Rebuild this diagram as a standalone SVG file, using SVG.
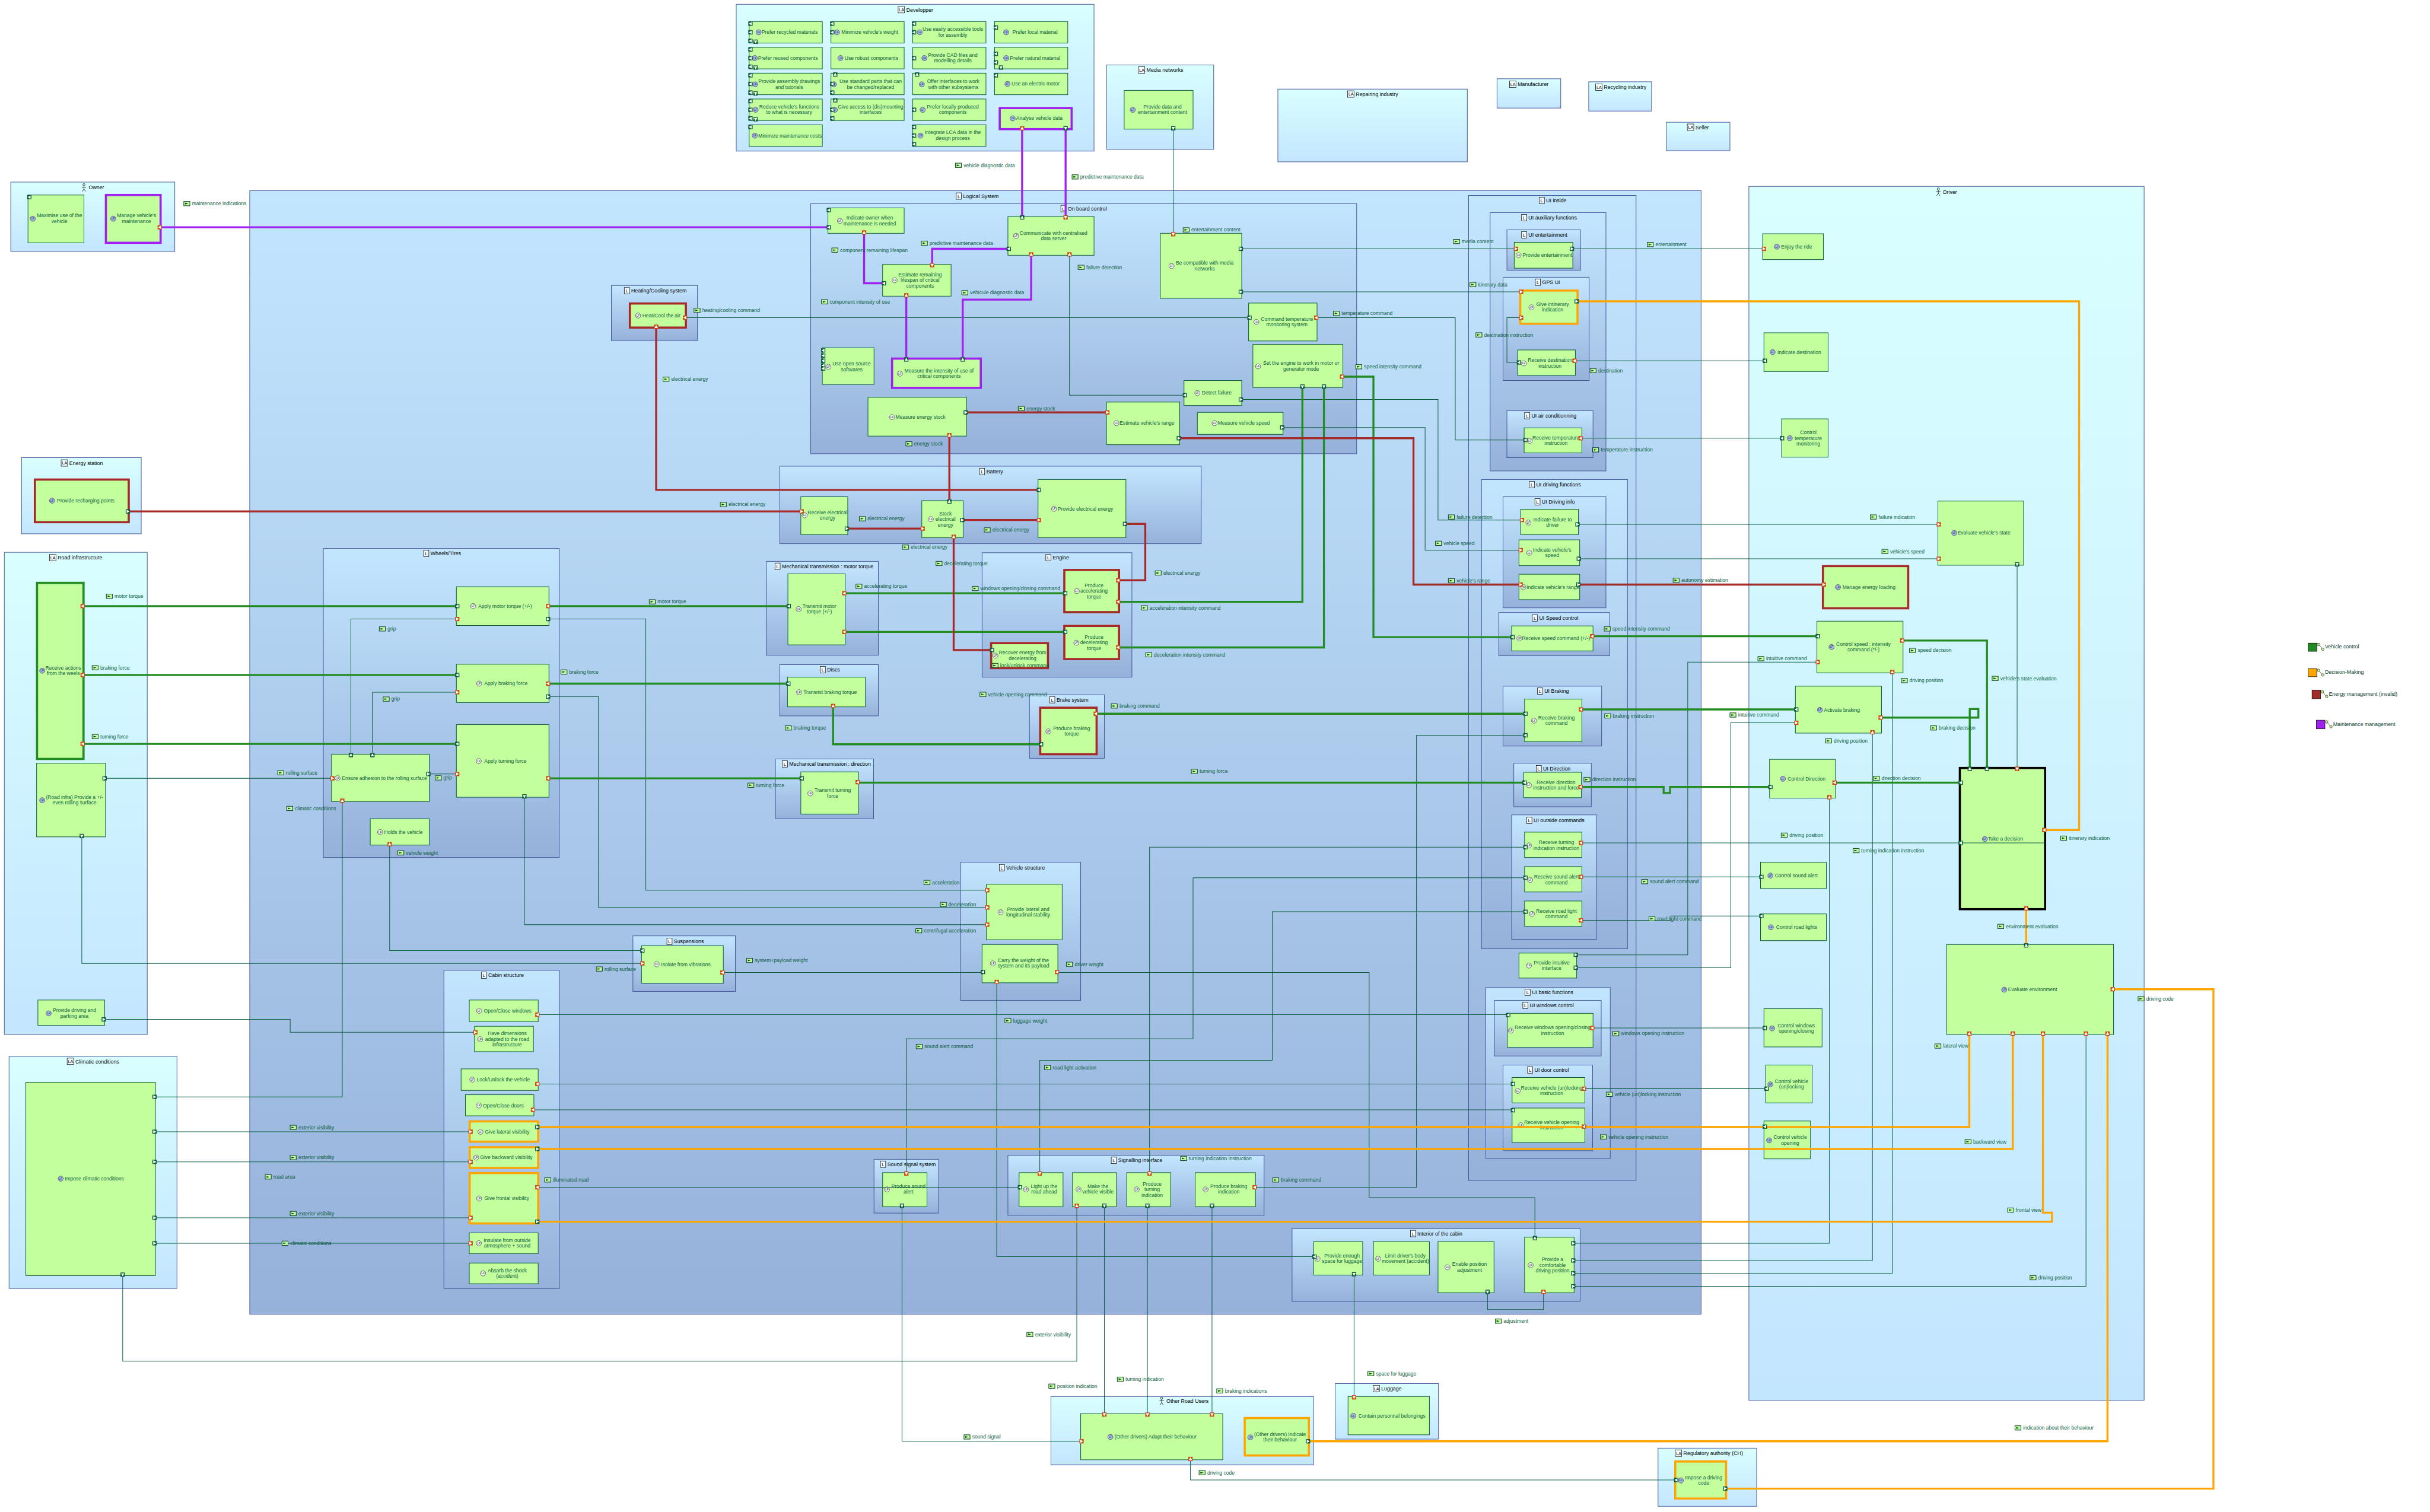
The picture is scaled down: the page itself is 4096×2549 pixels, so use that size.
<svg xmlns="http://www.w3.org/2000/svg" width="4096" height="2549" viewBox="0 0 4096 2549">
<style>
text{font-family:"Liberation Sans",Arial,sans-serif}
.c{stroke:#3f4f96;stroke-width:1.3}
.L{fill:url(#gL)}
.A{fill:url(#gA)}
.n{fill:#c4ff9e;stroke:#0b5e3e;stroke-width:1.4}
.nR{stroke:#a52a2a;stroke-width:5}
.nO{stroke:#ffa500;stroke-width:5}
.nG{stroke:#228b22;stroke-width:5}
.nP{stroke:#a020f0;stroke-width:5}
.nK{stroke:#000;stroke-width:5}
.t{font-size:11.8px;fill:#0b5e3e;text-anchor:middle}
.l{font-size:11.8px;fill:#0b5e3e}
.h{font-size:12.2px;fill:#000}
.k,.G,.O,.R,.P{fill:none}
.k{stroke:#0b5e3e;stroke-width:1.4}
.G{stroke:#228b22;stroke-width:4.6}
.O{stroke:#ffa500;stroke-width:4.6}
.R{stroke:#a52a2a;stroke-width:4.6}
.P{stroke:#a020f0;stroke-width:4.6}
.lg{font-size:12.2px;fill:#0b3e2e}
</style>
<defs>
<linearGradient id="gL" x1="0" y1="0" x2="0" y2="1"><stop offset="0" stop-color="#c3e6ff"/><stop offset="1" stop-color="#96b1da"/></linearGradient>
<linearGradient id="gA" x1="0" y1="0" x2="0" y2="1"><stop offset="0" stop-color="#d9ffff"/><stop offset="1" stop-color="#c3e6ff"/></linearGradient>
<g id="f"><circle r="6" fill="#eef4ee" stroke="#1c2a30" stroke-width=".9"/><text x="0" y="2.3" font-size="6.4" text-anchor="middle" fill="#1c2a30">LF</text></g>
<g id="fa"><circle r="6" fill="#a5b9e6" stroke="#1c2a50" stroke-width=".9"/><text x="0" y="2.3" font-size="6.4" text-anchor="middle" fill="#1c2a50">LF</text></g>
<g id="ci"><rect x="-6" y="-8" width="12" height="15" fill="#f6fbff" stroke="#000" stroke-width="1"/><text x="0" y="4" font-size="11" text-anchor="middle" fill="#000">L</text></g>
<g id="cia"><rect x="-8" y="-8" width="15" height="15" fill="#f6fbff" stroke="#000" stroke-width="1"/><text x="0" y="3.5" font-size="10" text-anchor="middle" fill="#000">LA</text></g>
<g id="act" fill="none" stroke="#000" stroke-width="1"><circle cx="0" cy="-7" r="2.6"/><path d="M0-4.4V3M-5-1H5M0 3L-4 9M0 3L4 9"/></g>
<g id="x"><rect x="0" y="-5" width="14" height="10" fill="#c4ff9e" stroke="#0b3e2e" stroke-width="1.4"/><path d="M3-2L10 0 3 2z" fill="#0b3e2e"/></g>
<g id="gr"><rect x="-5" y="-5" width="10" height="10" fill="#0a5c37"/><path d="M-3-4L4 0-3 4z" fill="#fff"/></g>
<g id="gl"><rect x="-5" y="-5" width="10" height="10" fill="#0a5c37"/><path d="M3-4L-4 0 3 4z" fill="#fff"/></g>
<g id="gu"><rect x="-5" y="-5" width="10" height="10" fill="#0a5c37"/><path d="M-4 3L0-4 4 3z" fill="#fff"/></g>
<g id="gd"><rect x="-5" y="-5" width="10" height="10" fill="#0a5c37"/><path d="M-4-3L0 4 4-3z" fill="#fff"/></g>
<g id="or"><rect x="-5" y="-5" width="10" height="10" fill="#cc4a10"/><path d="M-3-4L4 0-3 4z" fill="#fff"/></g>
<g id="ol"><rect x="-5" y="-5" width="10" height="10" fill="#cc4a10"/><path d="M3-4L-4 0 3 4z" fill="#fff"/></g>
<g id="ou"><rect x="-5" y="-5" width="10" height="10" fill="#cc4a10"/><path d="M-4 3L0-4 4 3z" fill="#fff"/></g>
<g id="od"><rect x="-5" y="-5" width="10" height="10" fill="#cc4a10"/><path d="M-4-3L0 4 4-3z" fill="#fff"/></g>
<g id="lk" fill="#c4ff9e" stroke="#222" stroke-width="1"><path d="M-3-4L6 6" fill="none"/><circle cx="-4" cy="-5" r="3"/><circle cx="6" cy="6" r="3"/></g>
</defs>
<rect width="4096" height="2549" fill="#fff"/>
<g transform="scale(.72573)">

<g id="containers">
<rect class="c A" x="1710" y="10" width="831" height="341"/>
<rect class="c A" x="2570" y="151" width="249" height="196"/>
<rect class="c A" x="2968" y="207" width="440" height="169"/>
<rect class="c A" x="3477" y="183" width="148" height="68"/>
<rect class="c A" x="3690" y="190" width="146" height="68"/>
<rect class="c A" x="3870" y="284" width="148" height="66"/>
<rect class="c A" x="25" y="423" width="381" height="161"/>
<rect class="c A" x="50" y="1063" width="278" height="177"/>
<rect class="c A" x="10" y="1283" width="332" height="1120"/>
<rect class="c A" x="21" y="2454" width="390" height="539"/>
<rect class="c A" x="4062" y="433" width="918" height="2820"/>
<rect class="c A" x="2441" y="3244" width="610" height="159"/>
<rect class="c A" x="3101" y="3214" width="240" height="129"/>
<rect class="c A" x="3851" y="3364" width="229" height="135"/>
<rect class="c L" x="580" y="443" width="3371" height="2610"/>
<rect class="c L" x="1883" y="473" width="1268" height="581"/>
<rect class="c L" x="1420" y="663" width="200" height="128"/>
<rect class="c L" x="751" y="1274" width="548" height="718"/>
<rect class="c L" x="1031" y="2254" width="268" height="739"/>
<rect class="c L" x="1811" y="1083" width="979" height="180"/>
<rect class="c L" x="1780" y="1304" width="260" height="218"/>
<rect class="c L" x="2281" y="1284" width="348" height="289"/>
<rect class="c L" x="1811" y="1544" width="229" height="119"/>
<rect class="c L" x="2391" y="1614" width="174" height="148"/>
<rect class="c L" x="1801" y="1763" width="228" height="139"/>
<rect class="c L" x="2231" y="2003" width="279" height="321"/>
<rect class="c L" x="1470" y="2174" width="238" height="129"/>
<rect class="c L" x="2030" y="2693" width="150" height="125"/>
<rect class="c L" x="2341" y="2684" width="595" height="139"/>
<rect class="c L" x="3001" y="2854" width="669" height="169"/>
<rect class="c L" x="3411" y="454" width="389" height="2288"/>
<rect class="c L" x="3461" y="494" width="269" height="600"/>
<rect class="c L" x="3500" y="534" width="171" height="94"/>
<rect class="c L" x="3491" y="644" width="200" height="240"/>
<rect class="c L" x="3500" y="954" width="200" height="109"/>
<rect class="c L" x="3441" y="1114" width="339" height="1090"/>
<rect class="c L" x="3491" y="1154" width="239" height="258"/>
<rect class="c L" x="3481" y="1423" width="258" height="100"/>
<rect class="c L" x="3491" y="1594" width="229" height="139"/>
<rect class="c L" x="3516" y="1773" width="180" height="101"/>
<rect class="c L" x="3511" y="1893" width="197" height="289"/>
<rect class="c L" x="3451" y="2294" width="289" height="397"/>
<rect class="c L" x="3471" y="2324" width="248" height="129"/>
<rect class="c L" x="3491" y="2474" width="208" height="199"/>
</g>

<g id="container-titles">
<use href="#cia" x="2094" y="23"/><text class="h" x="2105" y="27">Developper</text>
<use href="#cia" x="2652" y="163"/><text class="h" x="2663" y="167">Media networks</text>
<use href="#cia" x="3138" y="219"/><text class="h" x="3149" y="223">Repairing industry</text>
<use href="#cia" x="3514" y="196"/><text class="h" x="3525" y="200">Manufacturer</text>
<use href="#cia" x="3714" y="203"/><text class="h" x="3725" y="207">Recycling industry</text>
<use href="#cia" x="3927" y="296"/><text class="h" x="3938" y="300">Seller</text>
<use href="#ci" x="2227" y="456"/><text class="h" x="2237" y="460">Logical System</text>
<use href="#ci" x="2470" y="485"/><text class="h" x="2480" y="489">On board control</text>
<use href="#act" x="195" y="436"/><text class="h" x="206" y="440">Owner</text>
<use href="#ci" x="1456" y="676"/><text class="h" x="1466" y="680">Heating/Cooling system</text>
<use href="#cia" x="150" y="1076"/><text class="h" x="161" y="1080">Energy station</text>
<use href="#cia" x="123" y="1296"/><text class="h" x="134" y="1300">Road infrastructure</text>
<use href="#ci" x="990" y="1286"/><text class="h" x="1000" y="1290">Wheels/Tires</text>
<use href="#cia" x="164" y="2466"/><text class="h" x="175" y="2470">Climatic conditions</text>
<use href="#ci" x="1124" y="2266"/><text class="h" x="1134" y="2270">Cabin structure</text>
<use href="#ci" x="2281" y="1096"/><text class="h" x="2291" y="1100">Battery</text>
<use href="#ci" x="1806" y="1316"/><text class="h" x="1816" y="1320">Mechanical transmission : motor torque</text>
<use href="#ci" x="2435" y="1296"/><text class="h" x="2445" y="1300">Engine</text>
<use href="#ci" x="1911" y="1556"/><text class="h" x="1921" y="1560">Discs</text>
<use href="#ci" x="2444" y="1626"/><text class="h" x="2454" y="1630">Brake system</text>
<use href="#ci" x="1823" y="1775"/><text class="h" x="1833" y="1779">Mechanical transmission : direction</text>
<use href="#ci" x="2327" y="2016"/><text class="h" x="2337" y="2020">Vehicle structure</text>
<use href="#ci" x="1555" y="2187"/><text class="h" x="1565" y="2191">Suspensions</text>
<use href="#ci" x="2051" y="2705"/><text class="h" x="2061" y="2709">Sound signal system</text>
<use href="#ci" x="2587" y="2696"/><text class="h" x="2597" y="2700">Signalling interface</text>
<use href="#ci" x="3282" y="2866"/><text class="h" x="3292" y="2870">Interior of the cabin</text>
<use href="#ci" x="3581" y="466"/><text class="h" x="3591" y="470">UI inside</text>
<use href="#ci" x="3540" y="506"/><text class="h" x="3550" y="510">UI auxiliary functions</text>
<use href="#ci" x="3540" y="546"/><text class="h" x="3550" y="550">UI entertainment</text>
<use href="#ci" x="3572" y="656"/><text class="h" x="3582" y="660">GPS UI</text>
<use href="#ci" x="3547" y="966"/><text class="h" x="3557" y="970">UI air conditionning</text>
<use href="#ci" x="3558" y="1126"/><text class="h" x="3568" y="1130">UI driving functions</text>
<use href="#ci" x="3571" y="1166"/><text class="h" x="3581" y="1170">UI Driving info</text>
<use href="#ci" x="3565" y="1436"/><text class="h" x="3575" y="1440">UI Speed control</text>
<use href="#ci" x="3577" y="1606"/><text class="h" x="3587" y="1610">UI Braking</text>
<use href="#ci" x="3574" y="1786"/><text class="h" x="3584" y="1790">UI Direction</text>
<use href="#ci" x="3552" y="1906"/><text class="h" x="3562" y="1910">UI outside commands</text>
<use href="#ci" x="3548" y="2306"/><text class="h" x="3558" y="2310">UI basic functions</text>
<use href="#ci" x="3543" y="2336"/><text class="h" x="3553" y="2340">UI windows control</text>
<use href="#ci" x="3554" y="2486"/><text class="h" x="3564" y="2490">UI door control</text>
<use href="#act" x="4502" y="446"/><text class="h" x="4513" y="450">Driver</text>
<use href="#act" x="2698" y="3255"/><text class="h" x="2709" y="3259">Other Road Users</text>
<use href="#cia" x="3197" y="3226"/><text class="h" x="3208" y="3230">Luggage</text>
<use href="#cia" x="3899" y="3376"/><text class="h" x="3910" y="3380">Regulatory authority (CH)</text>
</g>

<g id="nodes">
<g id="d1"><rect class="n" x="1740" y="50" width="170" height="50"/><use href="#fa" x="1762" y="75"/><text class="t" x="1834" y="79">Prefer recycled materials</text></g>
<g id="d2"><rect class="n" x="1740" y="110" width="170" height="50"/><use href="#fa" x="1753" y="135"/><text class="t" x="1830" y="139">Prefer reused components</text></g>
<g id="d3"><rect class="n" x="1740" y="170" width="170" height="50"/><use href="#fa" x="1754" y="196"/><text class="t" x="1833" y="193"><tspan>Provide assembly drawings</tspan><tspan x="1833" dy="13">and tutorials</tspan></text></g>
<g id="d4"><rect class="n" x="1740" y="230" width="170" height="50"/><use href="#fa" x="1755" y="255"/><text class="t" x="1833" y="252"><tspan>Reduce vehicle's functions</tspan><tspan x="1833" dy="13">to what is necessary</tspan></text></g>
<g id="d5"><rect class="n" x="1740" y="290" width="170" height="50"/><use href="#fa" x="1753" y="315"/><text class="t" x="1835" y="319">Minimize maintenance costs</text></g>
<g id="d6"><rect class="n" x="1930" y="50" width="170" height="50"/><use href="#fa" x="1944" y="75"/><text class="t" x="2020" y="79">Minimize vehicle's weight</text></g>
<g id="d7"><rect class="n" x="1930" y="110" width="170" height="50"/><use href="#fa" x="1952" y="135"/><text class="t" x="2024" y="139">Use robust components</text></g>
<g id="d8"><rect class="n" x="1930" y="170" width="170" height="50"/><use href="#fa" x="1937" y="196"/><text class="t" x="2022" y="193"><tspan>Use standard parts that can</tspan><tspan x="2022" dy="13">be changed/replaced</tspan></text></g>
<g id="d9"><rect class="n" x="1930" y="230" width="170" height="50"/><use href="#fa" x="1939" y="255"/><text class="t" x="2022" y="252"><tspan>Give access to (dis)mounting</tspan><tspan x="2022" dy="13">interfaces</tspan></text></g>
<g id="d10"><rect class="n" x="2120" y="50" width="170" height="50"/><use href="#fa" x="2136" y="75"/><text class="t" x="2213" y="72"><tspan>Use easily accessible tools</tspan><tspan x="2213" dy="13">for assembly</tspan></text></g>
<g id="d11"><rect class="n" x="2120" y="110" width="170" height="50"/><use href="#fa" x="2147" y="135"/><text class="t" x="2213" y="132"><tspan>Provide CAD files and</tspan><tspan x="2213" dy="13">modelling details</tspan></text></g>
<g id="d12"><rect class="n" x="2120" y="170" width="170" height="50"/><use href="#fa" x="2141" y="196"/><text class="t" x="2214" y="193"><tspan>Offer interfaces to work</tspan><tspan x="2214" dy="13">with other subsystems</tspan></text></g>
<g id="d13"><rect class="n" x="2120" y="230" width="170" height="50"/><use href="#fa" x="2143" y="255"/><text class="t" x="2213" y="252"><tspan>Prefer locally produced</tspan><tspan x="2213" dy="13">components</tspan></text></g>
<g id="d14"><rect class="n" x="2120" y="290" width="170" height="50"/><use href="#fa" x="2138" y="315"/><text class="t" x="2213" y="312"><tspan>Integrate LCA data in the</tspan><tspan x="2213" dy="13">design process</tspan></text></g>
<g id="d15"><rect class="n" x="2310" y="50" width="170" height="50"/><use href="#fa" x="2337" y="75"/><text class="t" x="2404" y="79">Prefer local material</text></g>
<g id="d16"><rect class="n" x="2310" y="110" width="170" height="50"/><use href="#fa" x="2337" y="135"/><text class="t" x="2404" y="139">Prefer natural material</text></g>
<g id="d17"><rect class="n" x="2310" y="170" width="170" height="50"/><use href="#fa" x="2340" y="195"/><text class="t" x="2405" y="199">Use an electric motor</text></g>
<g id="d18"><rect class="n nP" x="2322" y="251" width="167" height="49"/><use href="#fa" x="2352" y="275"/><text class="t" x="2414" y="279">Analyse vehicle data</text></g>
<g id="m1"><rect class="n" x="2611" y="210" width="160" height="90"/><use href="#fa" x="2631" y="255"/><text class="t" x="2700" y="252"><tspan>Provide data and</tspan><tspan x="2700" dy="13">entertainment content</tspan></text></g>
<g id="ow1"><rect class="n" x="65" y="453" width="130" height="111"/><use href="#fa" x="76" y="508"/><text class="t" x="138" y="505"><tspan>Maximise use of the</tspan><tspan x="138" dy="13">vehicle</tspan></text></g>
<g id="ow2"><rect class="n nP" x="246" y="453" width="127" height="111"/><use href="#fa" x="263" y="508"/><text class="t" x="317" y="505"><tspan>Manage vehicle's</tspan><tspan x="317" dy="13">maintenance</tspan></text></g>
<g id="b1"><rect class="n" x="1923" y="483" width="177" height="59"/><use href="#f" x="1951" y="513"/><text class="t" x="2020" y="510"><tspan>Indicate owner when</tspan><tspan x="2020" dy="13">maintenance is needed</tspan></text></g>
<g id="b2"><rect class="n" x="2341" y="503" width="200" height="90"/><use href="#f" x="2360" y="548"/><text class="t" x="2447" y="545"><tspan>Communicate with centralised</tspan><tspan x="2447" dy="13">data server</tspan></text></g>
<g id="b3"><rect class="n" x="2695" y="542" width="189" height="151"/><use href="#f" x="2721" y="618"/><text class="t" x="2798" y="615"><tspan>Be compatible with media</tspan><tspan x="2798" dy="13">networks</tspan></text></g>
<g id="b4"><rect class="n" x="2050" y="614" width="159" height="74"/><use href="#f" x="2078" y="651"/><text class="t" x="2137" y="642"><tspan>Estimate remaining</tspan><tspan x="2137" dy="13">lifespan of critical</tspan><tspan x="2137" dy="13">components</tspan></text></g>
<g id="b5"><rect class="n" x="2900" y="704" width="159" height="88"/><use href="#f" x="2918" y="748"/><text class="t" x="2989" y="745"><tspan>Command temperature</tspan><tspan x="2989" dy="13">monitoring system</tspan></text></g>
<g id="b6"><rect class="n" x="2910" y="800" width="209" height="100"/><use href="#f" x="2922" y="851"/><text class="t" x="3022" y="848"><tspan>Set the engine to work in motor or</tspan><tspan x="3022" dy="13">generator mode</tspan></text></g>
<g id="b7"><rect class="n" x="1910" y="808" width="120" height="85"/><use href="#f" x="1924" y="852"/><text class="t" x="1978" y="849"><tspan>Use open source</tspan><tspan x="1978" dy="13">softwares</tspan></text></g>
<g id="b8"><rect class="n nP" x="2072" y="833" width="206" height="68"/><use href="#f" x="2090" y="868"/><text class="t" x="2181" y="865"><tspan>Measure the intensity of use of</tspan><tspan x="2181" dy="13">critical components</tspan></text></g>
<g id="b9"><rect class="n" x="2016" y="923" width="229" height="90"/><use href="#f" x="2072" y="969"/><text class="t" x="2138" y="973">Measure energy stock</text></g>
<g id="b10"><rect class="n" x="2750" y="884" width="134" height="58"/><use href="#f" x="2781" y="913"/><text class="t" x="2826" y="917">Detect failure</text></g>
<g id="b11"><rect class="n" x="2781" y="958" width="199" height="51"/><use href="#f" x="2821" y="983"/><text class="t" x="2889" y="987">Measure vehicle speed</text></g>
<g id="b12"><rect class="n" x="2570" y="934" width="170" height="99"/><use href="#f" x="2593" y="983"/><text class="t" x="2664" y="987">Estimate vehicle's range</text></g>
<g id="h1"><rect class="n nR" x="1463" y="705" width="130" height="56"/><use href="#f" x="1482" y="733"/><text class="t" x="1536" y="737">Heat/Cool the air</text></g>
<g id="e1"><rect class="n nR" x="81" y="1114" width="218" height="99"/><use href="#fa" x="121" y="1163"/><text class="t" x="199" y="1167">Provide recharging points</text></g>
<g id="r1"><rect class="n nG" x="86" y="1354" width="108" height="409"/><use href="#fa" x="98" y="1558"/><text class="t" x="147" y="1555"><tspan>Receive actions</tspan><tspan x="147" dy="13">from the weels</tspan></text></g>
<g id="r2"><rect class="n" x="85" y="1773" width="160" height="171"/><use href="#fa" x="98" y="1859"/><text class="t" x="173" y="1856"><tspan>(Road infra) Provide a +/-</tspan><tspan x="173" dy="13">even rolling surface</tspan></text></g>
<g id="r3"><rect class="n" x="88" y="2323" width="155" height="59"/><use href="#fa" x="113" y="2354"/><text class="t" x="173" y="2351"><tspan>Provide driving and</tspan><tspan x="173" dy="13">parking area</tspan></text></g>
<g id="w1"><rect class="n" x="1060" y="1363" width="215" height="90"/><use href="#f" x="1099" y="1408"/><text class="t" x="1173" y="1412">Apply motor torque (+/-)</text></g>
<g id="w2"><rect class="n" x="1060" y="1543" width="215" height="89"/><use href="#f" x="1113" y="1588"/><text class="t" x="1175" y="1592">Apply braking force</text></g>
<g id="w3"><rect class="n" x="1060" y="1683" width="215" height="169"/><use href="#f" x="1112" y="1768"/><text class="t" x="1174" y="1772">Apply turning force</text></g>
<g id="w4"><rect class="n" x="770" y="1752" width="227" height="110"/><use href="#f" x="784" y="1808"/><text class="t" x="893" y="1812">Ensure adhesion to the rolling surface</text></g>
<g id="w5"><rect class="n" x="860" y="1902" width="137" height="61"/><use href="#f" x="883" y="1933"/><text class="t" x="937" y="1937">Holds the vehicle</text></g>
<g id="cl1"><rect class="n" x="60" y="2514" width="301" height="449"/><use href="#fa" x="141" y="2738"/><text class="t" x="219" y="2742">Impose climatic conditions</text></g>
<g id="c1"><rect class="n" x="1090" y="2323" width="160" height="50"/><use href="#f" x="1113" y="2348"/><text class="t" x="1179" y="2352">Open/Close windows</text></g>
<g id="c2"><rect class="n" x="1102" y="2384" width="137" height="59"/><use href="#f" x="1115" y="2414"/><text class="t" x="1178" y="2405"><tspan>Have dimensions</tspan><tspan x="1178" dy="13">adapted to the road</tspan><tspan x="1178" dy="13">infrastructure</tspan></text></g>
<g id="c3"><rect class="n" x="1071" y="2483" width="179" height="50"/><use href="#f" x="1097" y="2508"/><text class="t" x="1169" y="2512">Lock/Unlock the vehicle</text></g>
<g id="c4"><rect class="n" x="1081" y="2543" width="159" height="49"/><use href="#f" x="1112" y="2568"/><text class="t" x="1169" y="2572">Open/Close doors</text></g>
<g id="c5"><rect class="n nO" x="1091" y="2605" width="159" height="47"/><use href="#f" x="1116" y="2629"/><text class="t" x="1178" y="2633">Give lateral visibility</text></g>
<g id="c6"><rect class="n nO" x="1091" y="2665" width="159" height="48"/><use href="#f" x="1106" y="2689"/><text class="t" x="1176" y="2693">Give backward visibility</text></g>
<g id="c7"><rect class="n nO" x="1091" y="2725" width="159" height="117"/><use href="#f" x="1113" y="2784"/><text class="t" x="1177" y="2788">Give frontal visibility</text></g>
<g id="c8"><rect class="n" x="1090" y="2864" width="160" height="48"/><use href="#f" x="1112" y="2888"/><text class="t" x="1178" y="2885"><tspan>Insulate from outside</tspan><tspan x="1178" dy="13">atmosphere + sound</tspan></text></g>
<g id="c9"><rect class="n" x="1090" y="2934" width="160" height="48"/><use href="#f" x="1122" y="2958"/><text class="t" x="1178" y="2955"><tspan>Absorb the shock</tspan><tspan x="1178" dy="13">(accident)</tspan></text></g>
<g id="ba1"><rect class="n" x="1860" y="1154" width="109" height="88"/><use href="#f" x="1869" y="1197"/><text class="t" x="1922" y="1194"><tspan>Receive electrical</tspan><tspan x="1922" dy="13">energy</tspan></text></g>
<g id="ba2"><rect class="n" x="2141" y="1163" width="96" height="86"/><use href="#f" x="2162" y="1206"/><text class="t" x="2196" y="1197"><tspan>Stock</tspan><tspan x="2196" dy="13">electrical</tspan><tspan x="2196" dy="13">energy</tspan></text></g>
<g id="ba3"><rect class="n" x="2411" y="1114" width="204" height="135"/><use href="#f" x="2448" y="1182"/><text class="t" x="2521" y="1186">Provide electrical energy</text></g>
<g id="tm"><rect class="n" x="1830" y="1333" width="133" height="165"/><use href="#f" x="1855" y="1415"/><text class="t" x="1903" y="1412"><tspan>Transmit motor</tspan><tspan x="1903" dy="13">torque (+/-)</tspan></text></g>
<g id="en1"><rect class="n nR" x="2472" y="1324" width="127" height="98"/><use href="#f" x="2501" y="1373"/><text class="t" x="2541" y="1364"><tspan>Produce</tspan><tspan x="2541" dy="13">accelerating</tspan><tspan x="2541" dy="13">torque</tspan></text></g>
<g id="en2"><rect class="n nR" x="2472" y="1454" width="127" height="77"/><use href="#f" x="2500" y="1493"/><text class="t" x="2541" y="1484"><tspan>Produce</tspan><tspan x="2541" dy="13">decelerating</tspan><tspan x="2541" dy="13">torque</tspan></text></g>
<g id="en3"><rect class="n nR" x="2302" y="1494" width="132" height="58"/><use href="#f" x="2312" y="1523"/><text class="t" x="2375" y="1520"><tspan>Recover energy from</tspan><tspan x="2375" dy="13">decelerating</tspan></text></g>
<g id="di"><rect class="n" x="1829" y="1573" width="181" height="69"/><use href="#f" x="1856" y="1608"/><text class="t" x="1928" y="1612">Transmit braking torque</text></g>
<g id="br"><rect class="n nR" x="2416" y="1644" width="131" height="108"/><use href="#f" x="2435" y="1699"/><text class="t" x="2489" y="1696"><tspan>Produce braking</tspan><tspan x="2489" dy="13">torque</tspan></text></g>
<g id="md"><rect class="n" x="1860" y="1793" width="134" height="98"/><use href="#f" x="1882" y="1843"/><text class="t" x="1934" y="1840"><tspan>Transmit turning</tspan><tspan x="1934" dy="13">force</tspan></text></g>
<g id="vs1"><rect class="n" x="2291" y="2054" width="176" height="129"/><use href="#f" x="2324" y="2119"/><text class="t" x="2388" y="2116"><tspan>Provide lateral and</tspan><tspan x="2388" dy="13">longitudinal stability</tspan></text></g>
<g id="vs2"><rect class="n" x="2281" y="2194" width="176" height="89"/><use href="#f" x="2306" y="2238"/><text class="t" x="2377" y="2235"><tspan>Carry the weight of the</tspan><tspan x="2377" dy="13">system and its payload</tspan></text></g>
<g id="su"><rect class="n" x="1490" y="2197" width="190" height="87"/><use href="#f" x="1525" y="2240"/><text class="t" x="1593" y="2244">Isolate from vibrations</text></g>
<g id="so"><rect class="n" x="2050" y="2724" width="103" height="79"/><use href="#f" x="2060" y="2763"/><text class="t" x="2110" y="2760"><tspan>Produce sound</tspan><tspan x="2110" dy="13">alert</tspan></text></g>
<g id="si1"><rect class="n" x="2367" y="2724" width="102" height="79"/><use href="#f" x="2383" y="2763"/><text class="t" x="2425" y="2760"><tspan>Light up the</tspan><tspan x="2425" dy="13">road ahead</tspan></text></g>
<g id="si2"><rect class="n" x="2491" y="2724" width="102" height="79"/><use href="#f" x="2505" y="2763"/><text class="t" x="2550" y="2760"><tspan>Make the</tspan><tspan x="2550" dy="13">vehicle visible</tspan></text></g>
<g id="si3"><rect class="n" x="2617" y="2724" width="102" height="79"/><use href="#f" x="2640" y="2763"/><text class="t" x="2676" y="2754"><tspan>Produce</tspan><tspan x="2676" dy="13">turning</tspan><tspan x="2676" dy="13">indication</tspan></text></g>
<g id="si4"><rect class="n" x="2776" y="2724" width="140" height="79"/><use href="#f" x="2800" y="2763"/><text class="t" x="2854" y="2760"><tspan>Produce braking</tspan><tspan x="2854" dy="13">indication</tspan></text></g>
<g id="i1"><rect class="n" x="3051" y="2884" width="114" height="78"/><use href="#f" x="3060" y="2924"/><text class="t" x="3117" y="2921"><tspan>Provide enough</tspan><tspan x="3117" dy="13">space for luggage</tspan></text></g>
<g id="i2"><rect class="n" x="3190" y="2884" width="130" height="78"/><use href="#f" x="3201" y="2924"/><text class="t" x="3264" y="2921"><tspan>Limit driver's body</tspan><tspan x="3264" dy="13">movement (accident)</tspan></text></g>
<g id="i3"><rect class="n" x="3340" y="2884" width="130" height="119"/><use href="#f" x="3362" y="2944"/><text class="t" x="3413" y="2941"><tspan>Enable position</tspan><tspan x="3413" dy="13">adjustment</tspan></text></g>
<g id="i4"><rect class="n" x="3541" y="2874" width="115" height="129"/><use href="#f" x="3555" y="2939"/><text class="t" x="3606" y="2930"><tspan>Provide a</tspan><tspan x="3606" dy="13">comfortable</tspan><tspan x="3606" dy="13">driving position</tspan></text></g>
<g id="u1"><rect class="n" x="3517" y="563" width="136" height="60"/><use href="#f" x="3527" y="593"/><text class="t" x="3594" y="597">Provide entertainment</text></g>
<g id="u2"><rect class="n nO" x="3531" y="675" width="133" height="77"/><use href="#f" x="3557" y="714"/><text class="t" x="3606" y="711"><tspan>Give intinerary</tspan><tspan x="3606" dy="13">indication</tspan></text></g>
<g id="u3"><rect class="n" x="3525" y="813" width="134" height="59"/><use href="#f" x="3539" y="844"/><text class="t" x="3600" y="841"><tspan>Receive destination</tspan><tspan x="3600" dy="13">instruction</tspan></text></g>
<g id="u4"><rect class="n" x="3540" y="994" width="134" height="58"/><use href="#f" x="3553" y="1024"/><text class="t" x="3614" y="1021"><tspan>Receive temperature</tspan><tspan x="3614" dy="13">instruction</tspan></text></g>
<g id="u5"><rect class="n" x="3532" y="1183" width="134" height="59"/><use href="#f" x="3550" y="1214"/><text class="t" x="3606" y="1211"><tspan>Indicate failure to</tspan><tspan x="3606" dy="13">driver</tspan></text></g>
<g id="u6"><rect class="n" x="3528" y="1254" width="141" height="60"/><use href="#f" x="3552" y="1284"/><text class="t" x="3605" y="1281"><tspan>Indicate vehicle's</tspan><tspan x="3605" dy="13">speed</tspan></text></g>
<g id="u7"><rect class="n" x="3528" y="1334" width="141" height="59"/><use href="#f" x="3538" y="1364"/><text class="t" x="3607" y="1368">Indicate vehicle's range</text></g>
<g id="u8"><rect class="n" x="3511" y="1454" width="189" height="58"/><use href="#f" x="3529" y="1483"/><text class="t" x="3614" y="1487">Receive speed command (+/-)</text></g>
<g id="u9"><rect class="n" x="3541" y="1624" width="133" height="99"/><use href="#f" x="3563" y="1674"/><text class="t" x="3615" y="1671"><tspan>Receive braking</tspan><tspan x="3615" dy="13">command</tspan></text></g>
<g id="u10"><rect class="n" x="3539" y="1794" width="134" height="59"/><use href="#f" x="3551" y="1824"/><text class="t" x="3614" y="1821"><tspan>Receive direction</tspan><tspan x="3614" dy="13">instruction and force</tspan></text></g>
<g id="u11"><rect class="n" x="3541" y="1933" width="133" height="59"/><use href="#f" x="3551" y="1964"/><text class="t" x="3615" y="1961"><tspan>Receive turning</tspan><tspan x="3615" dy="13">indication instruction</tspan></text></g>
<g id="u12"><rect class="n" x="3541" y="2013" width="133" height="59"/><use href="#f" x="3554" y="2044"/><text class="t" x="3615" y="2041"><tspan>Receive sound alert</tspan><tspan x="3615" dy="13">command</tspan></text></g>
<g id="u13"><rect class="n" x="3541" y="2093" width="133" height="59"/><use href="#f" x="3558" y="2123"/><text class="t" x="3615" y="2120"><tspan>Receive road light</tspan><tspan x="3615" dy="13">command</tspan></text></g>
<g id="u14"><rect class="n" x="3528" y="2214" width="134" height="58"/><use href="#f" x="3551" y="2243"/><text class="t" x="3604" y="2240"><tspan>Provide intuitive</tspan><tspan x="3604" dy="13">interface</tspan></text></g>
<g id="u15"><rect class="n" x="3501" y="2354" width="199" height="79"/><use href="#f" x="3509" y="2394"/><text class="t" x="3606" y="2391"><tspan>Receive windows opening/closing</tspan><tspan x="3606" dy="13">instruction</tspan></text></g>
<g id="u16"><rect class="n" x="3512" y="2503" width="169" height="59"/><use href="#f" x="3525" y="2534"/><text class="t" x="3604" y="2531"><tspan>Receive vehicle (un)locking</tspan><tspan x="3604" dy="13">instruction</tspan></text></g>
<g id="u17"><rect class="n" x="3512" y="2574" width="169" height="80"/><use href="#f" x="3532" y="2614"/><text class="t" x="3604" y="2611"><tspan>Receive vehicle opening</tspan><tspan x="3604" dy="13">instruction</tspan></text></g>
<g id="a1"><rect class="n" x="4094" y="543" width="141" height="60"/><use href="#fa" x="4127" y="573"/><text class="t" x="4173" y="577">Enjoy the ride</text></g>
<g id="a2"><rect class="n" x="4097" y="773" width="149" height="90"/><use href="#fa" x="4117" y="818"/><text class="t" x="4179" y="822">Indicate destination</text></g>
<g id="a3"><rect class="n" x="4138" y="973" width="108" height="89"/><use href="#fa" x="4157" y="1018"/><text class="t" x="4200" y="1009"><tspan>Control</tspan><tspan x="4200" dy="13">temperature</tspan><tspan x="4200" dy="13">monitoring</tspan></text></g>
<g id="a4"><rect class="n" x="4501" y="1164" width="199" height="149"/><use href="#fa" x="4539" y="1238"/><text class="t" x="4608" y="1242">Evaluate vehicle's state</text></g>
<g id="a5"><rect class="n nR" x="4234" y="1315" width="198" height="98"/><use href="#fa" x="4269" y="1364"/><text class="t" x="4341" y="1368">Manage energy loading</text></g>
<g id="a6"><rect class="n" x="4220" y="1443" width="200" height="120"/><use href="#fa" x="4254" y="1503"/><text class="t" x="4328" y="1500"><tspan>Control speed : intensity</tspan><tspan x="4328" dy="13">command (*/-)</tspan></text></g>
<g id="a7"><rect class="n" x="4170" y="1594" width="200" height="109"/><use href="#fa" x="4227" y="1649"/><text class="t" x="4278" y="1653">Activate braking</text></g>
<g id="a8"><rect class="n" x="4110" y="1764" width="153" height="90"/><use href="#fa" x="4141" y="1809"/><text class="t" x="4196" y="1813">Control Direction</text></g>
<g id="a9"><rect class="n nK" x="4552" y="1784" width="198" height="328"/><use href="#fa" x="4610" y="1949"/><text class="t" x="4658" y="1953">Take a decision</text></g>
<g id="a10"><rect class="n" x="4089" y="2003" width="153" height="61"/><use href="#fa" x="4112" y="2034"/><text class="t" x="4172" y="2038">Control sound alert</text></g>
<g id="a11"><rect class="n" x="4089" y="2123" width="153" height="62"/><use href="#fa" x="4113" y="2154"/><text class="t" x="4173" y="2158">Control road lights</text></g>
<g id="a12"><rect class="n" x="4521" y="2194" width="388" height="209"/><use href="#fa" x="4655" y="2299"/><text class="t" x="4721" y="2303">Evaluate environment</text></g>
<g id="a13"><rect class="n" x="4097" y="2343" width="135" height="89"/><use href="#fa" x="4116" y="2389"/><text class="t" x="4172" y="2386"><tspan>Control windows</tspan><tspan x="4172" dy="13">opening/closing</tspan></text></g>
<g id="a14"><rect class="n" x="4101" y="2474" width="108" height="88"/><use href="#fa" x="4112" y="2519"/><text class="t" x="4161" y="2516"><tspan>Control vehicle</tspan><tspan x="4161" dy="13">(un)locking</tspan></text></g>
<g id="a15"><rect class="n" x="4097" y="2604" width="108" height="88"/><use href="#fa" x="4109" y="2649"/><text class="t" x="4158" y="2646"><tspan>Control vehicle</tspan><tspan x="4158" dy="13">opening</tspan></text></g>
<g id="o1"><rect class="n" x="2510" y="3284" width="330" height="107"/><use href="#fa" x="2579" y="3338"/><text class="t" x="2684" y="3342">(Other drivers) Adapt their behaviour</text></g>
<g id="o2"><rect class="n nO" x="2891" y="3294" width="149" height="87"/><use href="#fa" x="2904" y="3339"/><text class="t" x="2973" y="3336"><tspan>(Other drivers) Indicate</tspan><tspan x="2973" dy="13">their behaviour</tspan></text></g>
<g id="lu"><rect class="n" x="3131" y="3244" width="189" height="89"/><use href="#fa" x="3143" y="3289"/><text class="t" x="3233" y="3293">Contain personnal belongings</text></g>
<g id="re"><rect class="n nO" x="3891" y="3395" width="118" height="86"/><use href="#fa" x="3904" y="3439"/><text class="t" x="3957" y="3436"><tspan>Impose a driving</tspan><tspan x="3957" dy="13">code</tspan></text></g>
</g>

<g id="connectors">
<path class="k" d="M2725 298V542M2884 578H3521M2884 678H3533M3651 578H4097M3657 838H4097M3525 842H3500V738H3533M3671 1018H4139M3059 738H3380V1022H3545M1593 738H2900M2484 593V918H2752M2884 928H3340V1208H3535M2980 993H3310V1278H3532M3666 1218H4501M3666 1298H4501"/>
<path class="k" d="M3662 2218H3920V1538H4220M3662 2248H4020V1679H4170M3656 2888H4249V1854M3656 2928H4349V1703M3656 2958H4395V1563M3656 2988H4845V2403M4750 1958H3674M3541 1968H2670V2724M3541 2039H2771V2413H2105V2724M3674 2037H4089M3541 2118H2955V2463H2415V2724M3674 2138H3881V2128H4089M2916 2758H3290V1708H3541M2457 2259H3180V2782H3565V2874M1680 2259H2281M2315 2283V2919H3051M1250 2357H3501M1250 2518H3512M1240 2578H3512M1250 2758H2367M361 2629H1091M361 2699H1091M361 2829H1091M361 2888H1090M285 2963V3162H2501V2803M2565 2803V3284M2665 2803V3284M2815 2803V3284M2095 2803V3348H2510M2765 3391V3438H3891M3455 3003V3042H3585V3003M3145 2962V3244M3700 2388H4097M3681 2529H4101M3681 2617H4097"/>
<path class="k" d="M1060 1438H815V1752M1060 1608H865V1752M997 1798H1060M245 1808H770M795 1862V2548H361M905 1963V2208H1490M190 1944V2238H1490M1275 1438H1500V2068H2291M1275 1618H1390V2108H2291M1218 1852V2148H2291M243 2368H674V2398H1102"/>
<path class="G" d="M3119 875H3190V1480H3511M2599 1398H3025V900M2599 1504H3075V900M1963 1378H2472M1963 1468H2472M1275 1408H1830M194 1408H1060M194 1568H1060M194 1728H1060M1275 1588H1829M1275 1808H1860M1935 1642V1729H2416M2547 1658H3541M1994 1818H3539M3673 1828H3864V1842H3879V1828H4110M4263 1818H4552M3674 1648H4170M4370 1667H4595V1647H4575V1784M4420 1488H4615V1784M3700 1478H4220"/>
<path class="k" d="M4685 1313V1784"/>
<path class="O" d="M4706 2112V2194M3664 700H4829V1928H4750M1250 2618H4574V2403M1250 2669H4675V2403M1250 2838H4766V2817H4745V2403M3040 3348H4895V2403M4009 3458H5141V2298H4909"/>
<path class="R" d="M299 1188H1860M1969 1228H2141M2237 1208H2411M2205 1013V1163M2245 958H2570M2215 1249V1510H2302M1524 761V1138H2411M2615 1217H2660V1348H2599M2740 1018H3283V1358H3532M3666 1358H4234"/>
<path class="P" d="M373 528H1925M2007 542V658H2050M2341 578H2165V614M2105 688V833M2395 593V696H2236V833M2374 300V503M2475 300V503"/>
</g>

<g id="ports">
<use href="#gl" x="1743" y="55"/><use href="#gl" x="1743" y="75"/><use href="#gl" x="1743" y="95"/><use href="#gd" x="1755" y="97"/>
<use href="#gl" x="1743" y="115"/><use href="#gl" x="1743" y="135"/><use href="#gl" x="1743" y="155"/><use href="#gd" x="1755" y="157"/>
<use href="#gl" x="1743" y="175"/><use href="#gl" x="1743" y="195"/><use href="#gl" x="1743" y="215"/><use href="#gd" x="1755" y="217"/>
<use href="#gl" x="1743" y="235"/><use href="#gl" x="1743" y="255"/><use href="#gl" x="1743" y="275"/><use href="#gd" x="1755" y="277"/>
<use href="#gl" x="1743" y="295"/>
<use href="#gl" x="1933" y="55"/><use href="#gl" x="1933" y="75"/><use href="#gu" x="1940" y="173"/><use href="#gl" x="1933" y="195"/><use href="#gl" x="1933" y="215"/><use href="#gu" x="1940" y="233"/><use href="#gl" x="1933" y="255"/><use href="#gl" x="1933" y="275"/>
<use href="#gl" x="2123" y="55"/><use href="#gl" x="2123" y="75"/><use href="#gl" x="2123" y="135"/><use href="#gu" x="2130" y="173"/><use href="#gl" x="2123" y="255"/><use href="#gl" x="2123" y="295"/><use href="#gl" x="2123" y="315"/><use href="#gl" x="2123" y="335"/>
<use href="#gl" x="2313" y="64"/><use href="#gl" x="2313" y="125"/><use href="#gl" x="2313" y="145"/><use href="#gd" x="2325" y="157"/><use href="#gl" x="2313" y="175"/>
<use href="#gl" x="1912" y="814"/><use href="#gl" x="1912" y="826"/><use href="#gl" x="1912" y="838"/><use href="#gl" x="1912" y="849"/><use href="#gl" x="1912" y="856"/>
<use href="#gl" x="68" y="458"/><use href="#gl" x="1925" y="488"/>
<use href="#ol" x="371" y="528"/><use href="#gl" x="1925" y="528"/><use href="#ou" x="2007" y="540"/><use href="#gl" x="2053" y="658"/><use href="#gl" x="2343" y="578"/><use href="#od" x="2165" y="616"/><use href="#ou" x="2105" y="686"/><use href="#gu" x="2105" y="835"/><use href="#ou" x="2395" y="591"/><use href="#gu" x="2236" y="835"/><use href="#ou" x="2374" y="298"/><use href="#gu" x="2374" y="505"/><use href="#gd" x="2475" y="298"/><use href="#od" x="2475" y="505"/>
<use href="#gd" x="2725" y="298"/><use href="#od" x="2725" y="544"/><use href="#gr" x="2882" y="578"/><use href="#gr" x="2882" y="678"/><use href="#or" x="3521" y="578"/><use href="#or" x="3533" y="678"/><use href="#gr" x="3651" y="578"/><use href="#or" x="4097" y="578"/>
<use href="#ol" x="3657" y="838"/><use href="#gl" x="4099" y="838"/><use href="#gl" x="3528" y="842"/><use href="#or" x="3533" y="738"/><use href="#ol" x="3671" y="1018"/><use href="#gl" x="4139" y="1018"/><use href="#gl" x="3543" y="1022"/><use href="#ol" x="3057" y="738"/><use href="#ol" x="1591" y="738"/><use href="#gl" x="2902" y="738"/>
<use href="#ou" x="2484" y="591"/><use href="#gl" x="2752" y="918"/><use href="#gr" x="2882" y="928"/><use href="#or" x="3535" y="1208"/><use href="#gr" x="2978" y="993"/><use href="#or" x="3532" y="1278"/><use href="#gr" x="2738" y="1018"/><use href="#or" x="3532" y="1358"/><use href="#gr" x="3666" y="1358"/><use href="#or" x="4236" y="1358"/>
<use href="#gr" x="3664" y="1218"/><use href="#or" x="4503" y="1218"/><use href="#gr" x="3667" y="1298"/><use href="#or" x="4503" y="1298"/>
<use href="#ol" x="3698" y="1478"/><use href="#gl" x="4222" y="1478"/><use href="#gl" x="3513" y="1480"/><use href="#ol" x="3117" y="875"/><use href="#gd" x="3025" y="898"/><use href="#gd" x="3075" y="898"/><use href="#ol" x="2597" y="1398"/><use href="#gl" x="2474" y="1378"/><use href="#ol" x="2597" y="1348"/><use href="#ol" x="2597" y="1504"/><use href="#gl" x="2474" y="1468"/>
<use href="#ol" x="1961" y="1378"/><use href="#ol" x="1961" y="1468"/><use href="#gl" x="1832" y="1408"/><use href="#ol" x="1273" y="1408"/><use href="#gl" x="1062" y="1408"/><use href="#or" x="1062" y="1438"/><use href="#gr" x="1273" y="1438"/><use href="#ol" x="192" y="1408"/><use href="#ol" x="192" y="1568"/><use href="#ol" x="192" y="1728"/><use href="#gl" x="1062" y="1568"/><use href="#or" x="1062" y="1608"/><use href="#ol" x="1273" y="1588"/><use href="#gr" x="1273" y="1618"/><use href="#gl" x="1062" y="1728"/><use href="#or" x="1062" y="1798"/><use href="#ol" x="1273" y="1808"/><use href="#gd" x="1218" y="1850"/>
<use href="#gu" x="815" y="1754"/><use href="#gu" x="865" y="1754"/><use href="#gr" x="995" y="1798"/><use href="#or" x="772" y="1808"/><use href="#ou" x="795" y="1860"/><use href="#gr" x="243" y="1808"/><use href="#gd" x="190" y="1942"/><use href="#ou" x="905" y="1961"/><use href="#gl" x="1492" y="2208"/><use href="#or" x="1492" y="2238"/><use href="#ol" x="1678" y="2259"/><use href="#gl" x="2283" y="2258"/><use href="#ol" x="2455" y="2258"/><use href="#ou" x="2315" y="2281"/><use href="#or" x="2293" y="2068"/><use href="#or" x="2293" y="2108"/><use href="#or" x="2293" y="2148"/>
<use href="#gl" x="1831" y="1588"/><use href="#ou" x="1935" y="1640"/><use href="#gl" x="2418" y="1729"/><use href="#ol" x="2545" y="1658"/><use href="#gl" x="3543" y="1658"/><use href="#gl" x="3543" y="1708"/><use href="#ol" x="3672" y="1648"/><use href="#gl" x="4172" y="1648"/><use href="#or" x="4172" y="1679"/><use href="#ol" x="4368" y="1667"/><use href="#ou" x="4349" y="1701"/>
<use href="#gl" x="1862" y="1808"/><use href="#ol" x="1992" y="1817"/><use href="#gl" x="3541" y="1818"/><use href="#ol" x="3671" y="1828"/><use href="#gl" x="4112" y="1828"/><use href="#ol" x="4261" y="1818"/><use href="#ou" x="4249" y="1852"/><use href="#gl" x="4554" y="1818"/><use href="#gu" x="4575" y="1786"/><use href="#gu" x="4615" y="1786"/><use href="#od" x="4685" y="1786"/><use href="#ol" x="4748" y="1928"/><use href="#gl" x="4554" y="1958"/><use href="#ou" x="4706" y="2110"/><use href="#ol" x="4418" y="1488"/><use href="#or" x="4222" y="1538"/><use href="#ou" x="4395" y="1561"/><use href="#gd" x="4685" y="1311"/><use href="#gu" x="4706" y="2196"/><use href="#ol" x="4907" y="2298"/><use href="#ou" x="4574" y="2401"/><use href="#ou" x="4675" y="2401"/><use href="#ou" x="4745" y="2401"/><use href="#ou" x="4845" y="2401"/><use href="#ou" x="4895" y="2401"/><use href="#gr" x="3662" y="700"/>
<use href="#gr" x="3660" y="2218"/><use href="#gr" x="3660" y="2248"/><use href="#gr" x="3654" y="2888"/><use href="#gr" x="3654" y="2928"/><use href="#gr" x="3654" y="2958"/><use href="#gr" x="3654" y="2988"/><use href="#gu" x="3565" y="2876"/><use href="#ou" x="3585" y="3001"/><use href="#gd" x="3455" y="3001"/><use href="#gl" x="3053" y="2919"/><use href="#gd" x="3145" y="2960"/><use href="#od" x="3145" y="3246"/>
<use href="#ol" x="3672" y="1958"/><use href="#gl" x="3543" y="1968"/><use href="#od" x="2670" y="2726"/><use href="#gd" x="2665" y="2801"/><use href="#gl" x="3543" y="2039"/><use href="#ol" x="3672" y="2037"/><use href="#gl" x="4091" y="2037"/><use href="#od" x="2105" y="2726"/><use href="#gd" x="2095" y="2801"/><use href="#gl" x="3543" y="2118"/><use href="#ol" x="3672" y="2138"/><use href="#gl" x="4091" y="2128"/><use href="#od" x="2415" y="2726"/><use href="#gl" x="2369" y="2758"/><use href="#ol" x="2914" y="2758"/><use href="#gd" x="2815" y="2801"/><use href="#ou" x="2501" y="2801"/><use href="#gd" x="2565" y="2801"/>
<use href="#od" x="2565" y="3286"/><use href="#od" x="2665" y="3286"/><use href="#od" x="2815" y="3286"/><use href="#or" x="2512" y="3348"/><use href="#ou" x="2765" y="3389"/><use href="#gr" x="3038" y="3348"/><use href="#gl" x="3893" y="3438"/><use href="#gr" x="4007" y="3458"/>
<use href="#gr" x="359" y="2548"/><use href="#gr" x="359" y="2629"/><use href="#gr" x="359" y="2699"/><use href="#gr" x="359" y="2829"/><use href="#gr" x="359" y="2888"/><use href="#gd" x="285" y="2961"/>
<use href="#ol" x="1248" y="2357"/><use href="#or" x="1104" y="2398"/><use href="#ol" x="1248" y="2518"/><use href="#ol" x="1238" y="2578"/><use href="#gr" x="1248" y="2618"/><use href="#or" x="1093" y="2629"/><use href="#gr" x="1248" y="2669"/><use href="#or" x="1093" y="2699"/><use href="#ol" x="1248" y="2758"/><use href="#or" x="1093" y="2829"/><use href="#gr" x="1248" y="2838"/><use href="#or" x="1093" y="2888"/><use href="#gr" x="241" y="2368"/>
<use href="#gl" x="3503" y="2358"/><use href="#ol" x="3698" y="2388"/><use href="#gl" x="4099" y="2388"/><use href="#gl" x="3514" y="2518"/><use href="#ol" x="3679" y="2529"/><use href="#gl" x="4103" y="2529"/><use href="#gl" x="3514" y="2579"/><use href="#ol" x="3679" y="2617"/><use href="#gl" x="4099" y="2617"/>
<use href="#gr" x="297" y="1188"/><use href="#or" x="1862" y="1188"/><use href="#gr" x="1967" y="1228"/><use href="#or" x="2143" y="1228"/><use href="#gr" x="2235" y="1208"/><use href="#or" x="2413" y="1208"/><use href="#gl" x="2413" y="1138"/><use href="#gr" x="2613" y="1217"/><use href="#gu" x="2205" y="1165"/><use href="#ou" x="2215" y="1247"/><use href="#gr" x="2243" y="958"/><use href="#ou" x="2205" y="1011"/><use href="#or" x="2572" y="958"/><use href="#gl" x="2304" y="1510"/><use href="#ou" x="1524" y="759"/>
</g>

<g id="connector-labels">
<use href="#x" x="427" y="473"/><text class="l" x="446" y="477">maintenance indications</text>
<use href="#x" x="2219" y="384"/><text class="l" x="2238" y="388">vehicle diagnostic data</text>
<use href="#x" x="2490" y="411"/><text class="l" x="2509" y="415">predictive maintenance data</text>
<use href="#x" x="1612" y="721"/><text class="l" x="1631" y="725">heating/cooling command</text>
<use href="#x" x="1540" y="881"/><text class="l" x="1559" y="885">electrical energy</text>
<use href="#x" x="1932" y="581"/><text class="l" x="1951" y="585">component remaining lifespan</text>
<use href="#x" x="2140" y="565"/><text class="l" x="2159" y="569">predictive maintenance data</text>
<use href="#x" x="2234" y="680"/><text class="l" x="2253" y="684">vehicule diagnostic data</text>
<use href="#x" x="1908" y="701"/><text class="l" x="1927" y="705">component intensity of use</text>
<use href="#x" x="2504" y="621"/><text class="l" x="2523" y="625">failure detection</text>
<use href="#x" x="2748" y="534"/><text class="l" x="2767" y="538">entertainment content</text>
<use href="#x" x="3097" y="728"/><text class="l" x="3116" y="732">temperature command</text>
<use href="#x" x="3149" y="852"/><text class="l" x="3168" y="856">speed intensity command</text>
<use href="#x" x="2365" y="949"/><text class="l" x="2384" y="953">energy stock</text>
<use href="#x" x="2104" y="1031"/><text class="l" x="2123" y="1035">energy stock</text>
<use href="#x" x="3376" y="561"/><text class="l" x="3395" y="565">media content</text>
<use href="#x" x="3414" y="661"/><text class="l" x="3433" y="665">itinerary data</text>
<use href="#x" x="3826" y="568"/><text class="l" x="3845" y="572">entertainment</text>
<use href="#x" x="3428" y="778"/><text class="l" x="3447" y="782">destination instruction</text>
<use href="#x" x="3693" y="861"/><text class="l" x="3712" y="865">destination</text>
<use href="#x" x="3699" y="1045"/><text class="l" x="3718" y="1049">temperature instruction</text>
<use href="#x" x="3364" y="1201"/><text class="l" x="3383" y="1205">failure detection</text>
<use href="#x" x="3334" y="1262"/><text class="l" x="3353" y="1266">vehicle speed</text>
<use href="#x" x="3364" y="1349"/><text class="l" x="3383" y="1353">vehicle's range</text>
<use href="#x" x="3886" y="1348"/><text class="l" x="3905" y="1352">autonomy estimation</text>
<use href="#x" x="4344" y="1201"/><text class="l" x="4363" y="1205">failure indication</text>
<use href="#x" x="4371" y="1281"/><text class="l" x="4390" y="1285">vehicle's speed</text>
<use href="#x" x="3726" y="1461"/><text class="l" x="3745" y="1465">speed intensity command</text>
<use href="#x" x="4083" y="1530"/><text class="l" x="4102" y="1534">intuitive command</text>
<use href="#x" x="4018" y="1661"/><text class="l" x="4037" y="1665">intuitive command</text>
<use href="#x" x="3727" y="1663"/><text class="l" x="3746" y="1667">braking instruction</text>
<use href="#x" x="3679" y="1811"/><text class="l" x="3698" y="1815">direction instruction</text>
<use href="#x" x="4351" y="1808"/><text class="l" x="4370" y="1812">direction decision</text>
<use href="#x" x="4435" y="1511"/><text class="l" x="4454" y="1515">speed decision</text>
<use href="#x" x="4416" y="1581"/><text class="l" x="4435" y="1585">driving position</text>
<use href="#x" x="4240" y="1721"/><text class="l" x="4259" y="1725">driving position</text>
<use href="#x" x="4137" y="1940"/><text class="l" x="4156" y="1944">driving position</text>
<use href="#x" x="4715" y="2968"/><text class="l" x="4734" y="2972">driving position</text>
<use href="#x" x="4484" y="1691"/><text class="l" x="4503" y="1695">braking decision</text>
<use href="#x" x="4627" y="1576"/><text class="l" x="4646" y="1580">vehicle's state evaluation</text>
<use href="#x" x="4304" y="1976"/><text class="l" x="4323" y="1980">turning indication instruction</text>
<use href="#x" x="4640" y="2152"/><text class="l" x="4659" y="2156">environment evaluation</text>
<use href="#x" x="4786" y="1947"/><text class="l" x="4805" y="1951">itinerary indication</text>
<use href="#x" x="3813" y="2048"/><text class="l" x="3832" y="2052">sound alert command</text>
<use href="#x" x="3830" y="2134"/><text class="l" x="3849" y="2138">road light command</text>
<use href="#x" x="247" y="1385"/><text class="l" x="266" y="1389">motor torque</text>
<use href="#x" x="214" y="1551"/><text class="l" x="233" y="1555">braking force</text>
<use href="#x" x="214" y="1711"/><text class="l" x="233" y="1715">turning force</text>
<use href="#x" x="881" y="1461"/><text class="l" x="900" y="1465">grip</text>
<use href="#x" x="890" y="1624"/><text class="l" x="909" y="1628">grip</text>
<use href="#x" x="1011" y="1807"/><text class="l" x="1030" y="1811">grip</text>
<use href="#x" x="645" y="1795"/><text class="l" x="664" y="1799">rolling surface</text>
<use href="#x" x="666" y="1878"/><text class="l" x="685" y="1882">climatic conditions</text>
<use href="#x" x="924" y="1981"/><text class="l" x="943" y="1985">vehicle weight</text>
<use href="#x" x="1385" y="2251"/><text class="l" x="1404" y="2255">rolling surface</text>
<use href="#x" x="1303" y="1561"/><text class="l" x="1322" y="1565">braking force</text>
<use href="#x" x="1508" y="1398"/><text class="l" x="1527" y="1402">motor torque</text>
<use href="#x" x="1737" y="1824"/><text class="l" x="1756" y="1828">turning force</text>
<use href="#x" x="1673" y="1172"/><text class="l" x="1692" y="1176">electrical energy</text>
<use href="#x" x="1996" y="1205"/><text class="l" x="2015" y="1209">electrical energy</text>
<use href="#x" x="2286" y="1231"/><text class="l" x="2305" y="1235">electrical energy</text>
<use href="#x" x="2096" y="1271"/><text class="l" x="2115" y="1275">electrical energy</text>
<use href="#x" x="2683" y="1331"/><text class="l" x="2702" y="1335">electrical energy</text>
<use href="#x" x="2174" y="1309"/><text class="l" x="2193" y="1313">decelerating torque</text>
<use href="#x" x="1988" y="1362"/><text class="l" x="2007" y="1366">accelerating torque</text>
<use href="#x" x="2258" y="1367"/><text class="l" x="2277" y="1371">windows opening/closing command</text>
<use href="#x" x="2304" y="1546"/><text class="l" x="2323" y="1550">lock/unlock command</text>
<use href="#x" x="2276" y="1613"/><text class="l" x="2295" y="1617">vehicle opening command</text>
<use href="#x" x="2651" y="1412"/><text class="l" x="2670" y="1416">acceleration intensity command</text>
<use href="#x" x="2661" y="1521"/><text class="l" x="2680" y="1525">deceleration intensity command</text>
<use href="#x" x="1824" y="1691"/><text class="l" x="1843" y="1695">braking torque</text>
<use href="#x" x="2581" y="1640"/><text class="l" x="2600" y="1644">braking command</text>
<use href="#x" x="2767" y="1792"/><text class="l" x="2786" y="1796">turning force</text>
<use href="#x" x="2146" y="2050"/><text class="l" x="2165" y="2054">acceleration</text>
<use href="#x" x="2184" y="2101"/><text class="l" x="2203" y="2105">deceleration</text>
<use href="#x" x="2127" y="2162"/><text class="l" x="2146" y="2166">centrifugal acceleration</text>
<use href="#x" x="1734" y="2231"/><text class="l" x="1753" y="2235">system+payload weight</text>
<use href="#x" x="2477" y="2240"/><text class="l" x="2496" y="2244">driver weight</text>
<use href="#x" x="2334" y="2371"/><text class="l" x="2353" y="2375">luggage weight</text>
<use href="#x" x="2128" y="2431"/><text class="l" x="2147" y="2435">sound alert command</text>
<use href="#x" x="2426" y="2480"/><text class="l" x="2445" y="2484">road light activation</text>
<use href="#x" x="2742" y="2691"/><text class="l" x="2761" y="2695">turning indication instruction</text>
<use href="#x" x="1265" y="2741"/><text class="l" x="1284" y="2745">illuminated road</text>
<use href="#x" x="674" y="2619"/><text class="l" x="693" y="2623">exterior visibility</text>
<use href="#x" x="674" y="2689"/><text class="l" x="693" y="2693">exterior visibility</text>
<use href="#x" x="674" y="2819"/><text class="l" x="693" y="2823">exterior visibility</text>
<use href="#x" x="655" y="2888"/><text class="l" x="674" y="2892">climatic conditions</text>
<use href="#x" x="616" y="2734"/><text class="l" x="635" y="2738">road area</text>
<use href="#x" x="2956" y="2741"/><text class="l" x="2975" y="2745">braking command</text>
<use href="#x" x="3746" y="2401"/><text class="l" x="3765" y="2405">windows opening instruction</text>
<use href="#x" x="3731" y="2542"/><text class="l" x="3750" y="2546">vehicle (un)locking instruction</text>
<use href="#x" x="3717" y="2641"/><text class="l" x="3736" y="2645">vehicle opening instruction</text>
<use href="#x" x="4494" y="2430"/><text class="l" x="4513" y="2434">lateral view</text>
<use href="#x" x="4564" y="2652"/><text class="l" x="4583" y="2656">backward view</text>
<use href="#x" x="4663" y="2811"/><text class="l" x="4682" y="2815">frontal view</text>
<use href="#x" x="4966" y="2320"/><text class="l" x="4985" y="2324">driving code</text>
<use href="#x" x="3473" y="3069"/><text class="l" x="3492" y="3073">adjustment</text>
<use href="#x" x="3177" y="3191"/><text class="l" x="3196" y="3195">space for luggage</text>
<use href="#x" x="2826" y="3231"/><text class="l" x="2845" y="3235">braking indications</text>
<use href="#x" x="2785" y="3421"/><text class="l" x="2804" y="3425">driving code</text>
<use href="#x" x="2436" y="3220"/><text class="l" x="2455" y="3224">position indication</text>
<use href="#x" x="2595" y="3204"/><text class="l" x="2614" y="3208">turning indication</text>
<use href="#x" x="2239" y="3338"/><text class="l" x="2258" y="3342">sound signal</text>
<use href="#x" x="2385" y="3100"/><text class="l" x="2404" y="3104">exterior visibility</text>
<use href="#x" x="4680" y="3317"/><text class="l" x="4699" y="3321">indication about their behaviour</text>
</g>

<g id="legend">
<rect x="5361" y="1494" width="20" height="19" fill="#228b22" stroke="#000"/><use href="#lk" x="5389" y="1502"/><text class="lg" x="5400" y="1506">Vehicle control</text>
<rect x="5361" y="1553" width="20" height="19" fill="#ffa500" stroke="#000"/><use href="#lk" x="5389" y="1562"/><text class="lg" x="5400" y="1566">Decision-Making</text>
<rect x="5370" y="1603" width="20" height="20" fill="#a52a2a" stroke="#000"/><use href="#lk" x="5398" y="1612"/><text class="lg" x="5409" y="1616">Energy management (invalid)</text>
<rect x="5380" y="1673" width="20" height="20" fill="#a020f0" stroke="#000"/><use href="#lk" x="5408" y="1682"/><text class="lg" x="5419" y="1686">Maintenance management</text>
</g>
</g>
</svg>
